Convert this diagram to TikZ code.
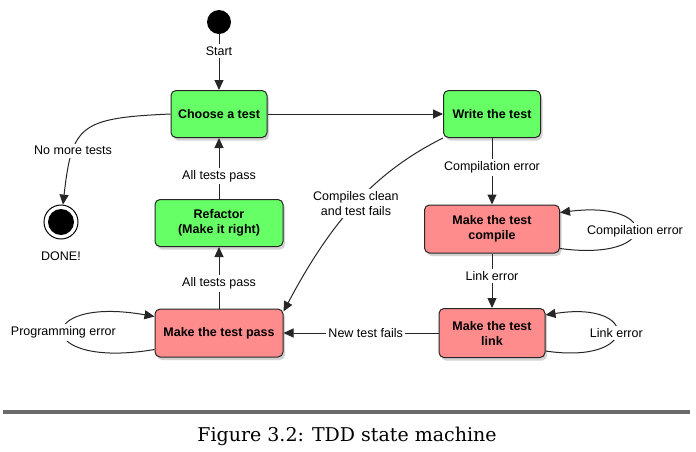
\documentclass[tikz,border=0pt]{standalone}
\usepackage{fontspec}
\setsansfont{Liberation Sans}
\newfontfamily\captionfont{DejaVu Serif}
\usepackage{tikz}
\usetikzlibrary{arrows.meta,shadows}

\definecolor{stategreen}{RGB}{102,255,102}
\definecolor{statered}{RGB}{255,140,140}

\tikzset{
  state/.style={draw=black!85, line width=1pt, rounded corners=5pt, align=center,
    font=\sffamily\bfseries\fontsize{12.5}{15}\selectfont, minimum height=47pt,
    drop shadow={opacity=0.35,shadow xshift=2pt,shadow yshift=-3pt}},
  good/.style={state, fill=stategreen},
  bad/.style={state, fill=statered},
  edge/.style={draw=black!85, line width=1pt, -{Triangle[length=10pt,width=9pt]}},
  lbl/.style={fill=white, inner sep=2.5pt, align=center,
    font=\sffamily\fontsize{12.5}{15}\selectfont}
}

\begin{document}
\begin{tikzpicture}[x=1pt,y=1pt]
\useasboundingbox (0,0) rectangle (696,-451);
% states
\node[circle,fill=black,minimum size=24pt,inner sep=0pt] (start) at (219,-22) {};
\node[good,minimum width=96pt] (choose) at (219,-114) {Choose a test};
\node[good,minimum width=97pt] (write) at (492,-114) {Write the test};
\node[good,minimum width=128pt] (refactor) at (219,-223) {Refactor\\(Make it right)};
\node[bad,minimum width=128pt,minimum height=48pt] (pass) at (219,-333) {Make the test pass};
\node[bad,minimum width=135pt,minimum height=48pt] (compile) at (492,-229) {Make the test\\compile};
\node[bad,minimum width=106pt,minimum height=49pt] (link) at (492,-333) {Make the test\\link};
\node[circle,draw=black,line width=1pt,fill=white,minimum size=34pt,inner sep=0pt] (done) at (61,-222) {};
\node[circle,fill=black,minimum size=26pt,inner sep=0pt] (donedot) at (done) {};
\node[lbl] (donelbl) at (61,-256) {DONE!};
% transitions
\draw[edge] (start) -- node[lbl,pos=0.3] {Start} (choose);
\draw[edge] (choose) -- (write);
\draw[edge] (choose.west) .. controls (80,-118) and (72,-125) .. node[lbl,pos=0.7] {No more tests} (done);
\draw[edge] (refactor) -- node[lbl,pos=0.38] {All tests pass} (choose);
\draw[edge] (pass) -- node[lbl,pos=0.41] {All tests pass} (refactor);
\draw[edge] (write) -- node[lbl,pos=0.44] {Compilation error} (compile);
\draw[edge] (compile) -- node[lbl,pos=0.42] {Link error} (link);
\draw[edge] (link) -- node[lbl,pos=0.47] {New test fails} (pass);
\draw[edge] (write.south west) .. controls (375,-172) and (332,-220) .. node[lbl,pos=0.5] {Compiles clean\\and test fails} ([yshift=-3pt]pass.north east);
% self loops
\draw[edge] ([yshift=5pt]compile.south east) .. controls (660,-262) and (660,-200) .. node[lbl,pos=0.5] {Compilation error} ([yshift=-8pt]compile.north east);
\draw[edge] ([yshift=7pt]link.south east) .. controls (640,-365) and (640,-300) .. node[lbl,pos=0.5] {Link error} ([yshift=-7pt]link.north east);
\draw[edge] ([yshift=8pt]pass.south west) .. controls (33,-370) and (33,-295) .. node[lbl,pos=0.5] {Programming error} ([yshift=-8pt]pass.north west);
% caption
\draw[line width=4pt,black!58] (3,-412) -- (690,-412);
\node[font=\captionfont\fontsize{19}{22}\selectfont] (caption) at (347,-436) {Figure 3.2: TDD state machine};
\end{tikzpicture}
\end{document}
